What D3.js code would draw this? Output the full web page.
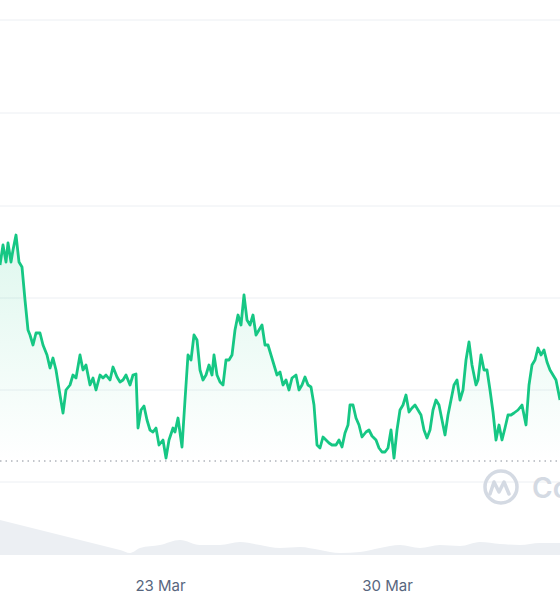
<!DOCTYPE html>
<html><head><meta charset="utf-8">
<script src="https://cdn.jsdelivr.net/npm/d3@7"></script>
<style>body{margin:0;background:#fff}svg{display:block}</style></head>
<body><svg id="c" width="560" height="600"></svg>
<script>
// time units (t) and price values (arbitrary units)
const priceT = [0,3,6,8,11,13,16,19,22,25,28,30,33,36,40,43,47,50,53,56,60,63,66,70,73,76,80,83,86,90,93,96,100,103,106,110,113,117,120,123,126,130,133,136,138,141,144,147,150,153,156,159,163,166,169,173,175,178,182,185,188,191,194,197,200,203,206,209,212,214,217,220,223,226,229,232,235,238,241,244,247,250,253,256,259,262,265,268,271,274,277,280,283,286,289,292,296,299,302,305,308,311,314,317,320,323,326,329,332,336,339,342,345,348,350,353,356,359,362,366,369,372,376,379,382,385,388,391,394,397,400,403,406,409,412,415,418,421,424,427,430,433,436,439,442,445,448,451,454,457,460,463,466,469,472,476,478,481,484,487,490,493,496,499,502,505,508,511,514,518,522,526,529,532,535,538,541,544,547,550,553,556,560];
const priceV = [235,255,238,257,238,250,265,238,233,200,170,165,155,167,167,155,145,132,142,130,105,87,110,115,125,122,145,130,135,115,122,110,125,122,125,120,133,123,118,120,125,115,125,126,72,90,94,80,70,68,72,55,60,42,60,72,68,82,53,100,145,140,165,160,130,120,125,135,125,145,125,118,115,140,140,145,170,185,175,205,180,175,185,165,170,175,155,155,145,135,125,128,115,120,110,122,125,110,115,123,115,113,95,55,52,63,60,57,55,55,60,53,67,75,95,95,82,75,63,68,70,64,60,52,48,48,52,70,42,70,90,95,105,88,92,95,90,85,70,62,70,90,100,95,80,65,85,100,115,120,100,110,140,158,135,115,120,145,130,130,110,88,60,75,60,72,85,85,87,90,95,75,115,135,140,152,145,150,138,130,125,120,100];
const volT = [0,20,40,60,80,100,120,130,140,160,180,200,220,240,260,280,300,320,340,360,380,400,420,440,460,480,500,520,540,560];
const volV = [35,30,25,20,15,10,5,2,7,10,15,10,10,13,10,7,8,5,2,3,7,10,7,10,9,13,11,10,12,12];
const gridVals = [18,110,202,294,387,480];
const refLine = 39;
const dateTicks = [160,387];
const dateLabels = ["23 Mar","30 Mar"];

const svg = d3.select("#c");
const x = d3.scaleLinear().domain([0,560]).range([0,560]);
const y = d3.scaleLinear().domain([0,500]).range([500,0]);
const yv = d3.scaleLinear().domain([0,35]).range([555,520]);

const defs = svg.append("defs");
const g = defs.append("linearGradient").attr("id","gf").attr("x1",0).attr("y1",0).attr("x2",0).attr("y2",1);
g.append("stop").attr("offset","0%").attr("stop-color","#16c784").attr("stop-opacity",0.14);
g.append("stop").attr("offset","100%").attr("stop-color","#16c784").attr("stop-opacity",0.0);

svg.append("g").selectAll("line").data(gridVals).join("line")
  .attr("x1",0).attr("x2",560).attr("y1",d=>y(d)).attr("y2",d=>y(d))
  .attr("stroke","#eceff3").attr("stroke-width",1);

const pts = priceT.map((t,i)=>[t,priceV[i]]);
svg.append("path").datum(pts).attr("fill","url(#gf)")
  .attr("d",d3.area().x(d=>x(d[0])).y0(y(refLine)).y1(d=>y(d[1])));

// watermark
const wm = svg.append("g").attr("opacity",0.9);
wm.append("circle").attr("cx",501).attr("cy",487).attr("r",16).attr("fill","none").attr("stroke","#d0d6e0").attr("stroke-width",3.5);
wm.append("path").attr("d","M490,494 L494,482 L499,492 L504,482 L509,494").attr("fill","none").attr("stroke","#d0d6e0").attr("stroke-width",3.5).attr("stroke-linejoin","round").attr("stroke-linecap","round");
wm.append("text").attr("x",532).attr("y",498).attr("font-family","Inter, sans-serif").attr("font-size",28).attr("font-weight",600).attr("fill","#d0d6e0").text("Co");

svg.append("line").attr("x1",0).attr("x2",560).attr("y1",y(refLine)).attr("y2",y(refLine))
  .attr("stroke","#888e99").attr("stroke-width",1).attr("stroke-dasharray","1.5,4");

svg.append("path").datum(pts).attr("fill","none").attr("stroke","#16c784").attr("stroke-width",2.8)
  .attr("stroke-linejoin","round")
  .attr("d",d3.line().x(d=>x(d[0])).y(d=>y(d[1])));

const vp = volT.map((t,i)=>[t,volV[i]]);
svg.append("path").datum(vp).attr("fill","#eceff3")
  .attr("d",d3.area().x(d=>x(d[0])).y0(yv(0)).y1(d=>yv(d[1])).curve(d3.curveMonotoneX));

const ax = svg.append("g").attr("transform","translate(0,580)")
  .call(d3.axisBottom(x).tickValues(dateTicks).tickFormat((d,i)=>dateLabels[i]).tickSize(0).tickPadding(0));
ax.select(".domain").remove();
ax.selectAll("text").attr("font-family","Inter, sans-serif").attr("font-size",15).attr("fill","#58667e").attr("dy","0.71em");
</script></body></html>
